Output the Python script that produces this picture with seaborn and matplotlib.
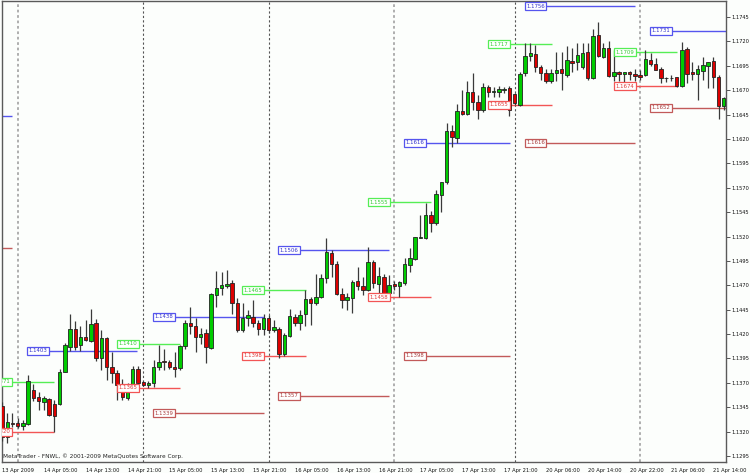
import numpy as np
import pandas as pd
import matplotlib
matplotlib.use("Agg")
import matplotlib.pyplot as plt
from matplotlib import font_manager
import seaborn as sns

# ------------------------------------------------------------------
# H1 bars, 13 Apr 21:00 -> 21 Apr 16:00
# ------------------------------------------------------------------
opens = [1.1346, 1.1315, 1.1329, 1.1329, 1.1326, 1.1328, 1.1363, 1.1356, 1.1350, 1.1353,
         1.1348, 1.1348, 1.1381, 1.1407, 1.1425, 1.1409, 1.1417, 1.1413, 1.1431, 1.1396,
         1.1416, 1.1386, 1.1380, 1.1369, 1.1354, 1.1368, 1.1384, 1.1371, 1.1368, 1.1370,
         1.1386, 1.1392, 1.1391, 1.1386, 1.1385, 1.1408, 1.1431, 1.1428, 1.1417, 1.1421,
         1.1406, 1.1460, 1.1467, 1.1469, 1.1472, 1.1452, 1.1424, 1.1436, 1.1438, 1.1431,
         1.1425, 1.1437, 1.1424, 1.1425, 1.1400, 1.1418, 1.1438, 1.1431, 1.1441, 1.1456,
         1.1452, 1.1458, 1.1478, 1.1503, 1.1492, 1.1461, 1.1455, 1.1457, 1.1474, 1.1469,
         1.1465, 1.1494, 1.1471, 1.1479, 1.1462, 1.1471, 1.1469, 1.1472, 1.1491, 1.1497,
         1.1519, 1.1519, 1.1542, 1.1534, 1.1563, 1.1576, 1.1628, 1.1621, 1.1649, 1.1646,
         1.1668, 1.1658, 1.1650, 1.1673, 1.1668, 1.1668, 1.1670, 1.1672, 1.1666, 1.1655,
         1.1688, 1.1705, 1.1707, 1.1694, 1.1688, 1.1679, 1.1688, 1.1692, 1.1686, 1.1700,
         1.1699, 1.1694, 1.1709, 1.1682, 1.1727, 1.1704, 1.1713, 1.1685, 1.1689, 1.1687,
         1.1689, 1.1687, 1.1686, 1.1686, 1.1701, 1.1697, 1.1692, 1.1682, 1.1682, 1.1683,
         1.1674, 1.1712, 1.1689, 1.1687, 1.1690, 1.1695, 1.1700, 1.1684, 1.1654]
highs = [1.1350, 1.1339, 1.1339, 1.1334, 1.1332, 1.1378, 1.1369, 1.1361, 1.1357, 1.1354,
         1.1352, 1.1384, 1.1411, 1.1441, 1.1433, 1.1428, 1.1434, 1.1446, 1.1435, 1.1424,
         1.1417, 1.1402, 1.1383, 1.1374, 1.1370, 1.1387, 1.1387, 1.1372, 1.1372, 1.1393,
         1.1409, 1.1405, 1.1393, 1.1402, 1.1409, 1.1434, 1.1448, 1.1436, 1.1426, 1.1425,
         1.1462, 1.1485, 1.1484, 1.1486, 1.1475, 1.1457, 1.1452, 1.1445, 1.1455, 1.1434,
         1.1441, 1.1440, 1.1434, 1.1427, 1.1421, 1.1446, 1.1441, 1.1445, 1.1465, 1.1458,
         1.1482, 1.1482, 1.1518, 1.1506, 1.1495, 1.1467, 1.1462, 1.1475, 1.1489, 1.1479,
         1.1509, 1.1496, 1.1489, 1.1482, 1.1481, 1.1474, 1.1474, 1.1498, 1.1508, 1.1520,
         1.1542, 1.1554, 1.1546, 1.1568, 1.1576, 1.1636, 1.1634, 1.1656, 1.1670, 1.1679,
         1.1688, 1.1665, 1.1677, 1.1675, 1.1673, 1.1674, 1.1673, 1.1674, 1.1667, 1.1689,
         1.1718, 1.1718, 1.1716, 1.1696, 1.1692, 1.1692, 1.1709, 1.1709, 1.1715, 1.1713,
         1.1718, 1.1718, 1.1718, 1.1733, 1.1740, 1.1718, 1.1720, 1.1711, 1.1690, 1.1689,
         1.1690, 1.1692, 1.1691, 1.1711, 1.1708, 1.1703, 1.1694, 1.1684, 1.1686, 1.1684,
         1.1719, 1.1714, 1.1699, 1.1696, 1.1704, 1.1699, 1.1704, 1.1686, 1.1663]
lows = [1.1310, 1.1308, 1.1325, 1.1324, 1.1322, 1.1327, 1.1351, 1.1342, 1.1342, 1.1336,
        1.1320, 1.1347, 1.1381, 1.1403, 1.1404, 1.1403, 1.1413, 1.1412, 1.1392, 1.1383,
        1.1373, 1.1370, 1.1352, 1.1352, 1.1352, 1.1366, 1.1369, 1.1367, 1.1365, 1.1366,
        1.1383, 1.1383, 1.1384, 1.1376, 1.1383, 1.1405, 1.1420, 1.1402, 1.1410, 1.1390,
        1.1405, 1.1448, 1.1460, 1.1467, 1.1441, 1.1422, 1.1422, 1.1428, 1.1427, 1.1419,
        1.1419, 1.1421, 1.1422, 1.1395, 1.1398, 1.1417, 1.1428, 1.1424, 1.1428, 1.1429,
        1.1450, 1.1457, 1.1472, 1.1479, 1.1460, 1.1447, 1.1445, 1.1442, 1.1465, 1.1460,
        1.1464, 1.1467, 1.1456, 1.1458, 1.1462, 1.1465, 1.1458, 1.1470, 1.1484, 1.1496,
        1.1518, 1.1517, 1.1525, 1.1532, 1.1545, 1.1574, 1.1612, 1.1616, 1.1645, 1.1645,
        1.1650, 1.1640, 1.1648, 1.1663, 1.1663, 1.1663, 1.1667, 1.1644, 1.1655, 1.1654,
        1.1685, 1.1700, 1.1689, 1.1680, 1.1677, 1.1677, 1.1679, 1.1670, 1.1684, 1.1689,
        1.1691, 1.1692, 1.1680, 1.1681, 1.1704, 1.1703, 1.1684, 1.1679, 1.1679, 1.1674,
        1.1680, 1.1679, 1.1680, 1.1685, 1.1695, 1.1691, 1.1677, 1.1678, 1.1679, 1.1673,
        1.1673, 1.1677, 1.1680, 1.1660, 1.1680, 1.1672, 1.1672, 1.1640, 1.1650]
closes = [1.1315, 1.1330, 1.1328, 1.1326, 1.1329, 1.1372, 1.1355, 1.1351, 1.1354, 1.1337,
          1.1336, 1.1381, 1.1409, 1.1425, 1.1407, 1.1417, 1.1414, 1.1430, 1.1395, 1.1416,
          1.1386, 1.1380, 1.1368, 1.1356, 1.1368, 1.1384, 1.1370, 1.1368, 1.1370, 1.1386,
          1.1391, 1.1391, 1.1386, 1.1384, 1.1408, 1.1431, 1.1428, 1.1417, 1.1420, 1.1407,
          1.1461, 1.1467, 1.1470, 1.1471, 1.1452, 1.1424, 1.1436, 1.1440, 1.1431, 1.1425,
          1.1437, 1.1424, 1.1427, 1.1400, 1.1419, 1.1439, 1.1431, 1.1440, 1.1456, 1.1452,
          1.1458, 1.1478, 1.1504, 1.1492, 1.1461, 1.1455, 1.1458, 1.1473, 1.1469, 1.1465,
          1.1494, 1.1472, 1.1480, 1.1462, 1.1470, 1.1469, 1.1473, 1.1492, 1.1498, 1.1520,
          1.1520, 1.1542, 1.1534, 1.1564, 1.1576, 1.1628, 1.1622, 1.1649, 1.1646, 1.1668,
          1.1658, 1.1650, 1.1673, 1.1668, 1.1669, 1.1671, 1.1671, 1.1650, 1.1657, 1.1687,
          1.1705, 1.1708, 1.1694, 1.1688, 1.1679, 1.1688, 1.1691, 1.1688, 1.1701, 1.1698,
          1.1706, 1.1708, 1.1682, 1.1726, 1.1705, 1.1713, 1.1685, 1.1689, 1.1687, 1.1689,
          1.1687, 1.1685, 1.1684, 1.1702, 1.1697, 1.1691, 1.1682, 1.1682, 1.1682, 1.1674,
          1.1711, 1.1687, 1.1687, 1.1692, 1.1696, 1.1699, 1.1684, 1.1654, 1.1662]

# time axis labels, one every 8 bars
time_labels = ["13 Apr 2009", "14 Apr 05:00", "14 Apr 13:00", "14 Apr 21:00",
               "15 Apr 05:00", "15 Apr 13:00", "15 Apr 21:00", "16 Apr 05:00",
               "16 Apr 13:00", "16 Apr 21:00", "17 Apr 05:00", "17 Apr 13:00",
               "17 Apr 21:00", "20 Apr 06:00", "20 Apr 14:00", "20 Apr 22:00",
               "21 Apr 06:00", "21 Apr 14:00"]
price_ticks = [1.1295, 1.1320, 1.1345, 1.1370, 1.1395, 1.1420, 1.1445, 1.1470,
               1.1495, 1.1520, 1.1545, 1.1570, 1.1595, 1.1620, 1.1645, 1.1670,
               1.1695, 1.1720, 1.1745]

# day separators (bar where a new day starts)
day_breaks = [3, 27, 51, 75, 98, 122]

# horizontal levels drawn by the indicator
level_price = [1.1371, 1.1320, 1.1403, 1.1410, 1.1365, 1.1438, 1.1339,
               1.1465, 1.1398, 1.1506, 1.1357, 1.1555, 1.1458, 1.1616, 1.1398,
               1.1717, 1.1655, 1.1756, 1.1616, 1.1709, 1.1674, 1.1731, 1.1652]
level_kind = ["up", "dn", "hi", "up", "dn", "hi", "lo",
              "up", "dn", "hi", "lo", "up", "dn", "hi", "lo",
              "up", "dn", "hi", "lo", "up", "dn", "hi", "lo"]
level_bar = [-0.2, -0.2, 6.9, 24.1, 24.1, 31.0, 31.0,
             48.0, 48.0, 54.9, 54.9, 72.1, 72.1, 79.0, 79.0,
             95.0, 95.0, 102.0, 102.0, 119.1, 119.1, 126.0, 126.0]
level_end = [9.9, 9.9, 25.8, 34.0, 34.0, 50.1, 50.1,
             58.1, 58.1, 74.0, 74.0, 82.0, 82.0, 97.1, 97.1,
             105.2, 105.2, 121.0, 121.0, 129.1, 129.1, 140.0, 140.0]
# stubs of previous day's levels at the left edge
stub_price = [1.1644, 1.1508]
stub_kind = ["hi", "lo"]

df = pd.DataFrame({"open": opens, "high": highs, "low": lows, "close": closes})
df["bar"] = np.arange(len(df))
df["up"] = df["close"] >= df["open"]

line_col = {"hi": "#5555ee", "lo": "#c25a5a", "up": "#55ee55", "dn": "#f25555"}
text_col = {"hi": "#3333cc", "lo": "#a83c3c", "up": "#33cc33", "dn": "#e03a3a"}

sns.set_style("white")
installed = {f.name for f in font_manager.fontManager.ttflist}
if "Liberation Sans Narrow" in installed:
    plt.rcParams["font.family"] = ["Liberation Sans Narrow", "DejaVu Sans"]
    fs = 4.9
else:
    plt.rcParams["font.family"] = ["DejaVu Sans"]
    fs = 3.7
bg = "#fcfefc"

fig = plt.figure(figsize=(7.5, 4.73), dpi=100, facecolor=bg)
ax = fig.add_axes([1.5 / 750, 11 / 473, 724.5 / 750, 460.7 / 473])
ax.set_facecolor(bg)

# period separators
for k, b in enumerate(day_breaks):
    if k in (0, 3, 5):
        ax.axvline(b, color="#a8a8a8", lw=1.3, ls=(0, (1.5, 1.5)), zorder=1)
    else:
        ax.axvline(b, color="#555555", lw=0.8, ls=(0, (2, 2)), zorder=1)

# levels
for p, kind, b, e in zip(level_price, level_kind, level_bar, level_end):
    ax.hlines(p, b + 1.9, e, color=line_col[kind], lw=1, zorder=2)
    ax.text(b, p, f"{p:.4f}", ha="center", va="center", fontsize=fs * 1.05,
            color=text_col[kind], zorder=6, clip_on=True,
            bbox=dict(boxstyle="square,pad=0.28", fc="white", ec=line_col[kind], lw=0.9))
for p, kind in zip(stub_price, stub_kind):
    ax.hlines(p, -1, 1.9, color=line_col[kind], lw=1, zorder=2)

# candles
ax.vlines(df["bar"], df["low"], df["high"], color="#3a3a3a", lw=0.9, zorder=3)
body_lo = df[["open", "close"]].min(axis=1)
body_h = (df["close"] - df["open"]).abs().clip(lower=0.00004)
colors = np.where(df["up"], "#00cc00", "#dd0000")
ax.bar(df["bar"], body_h, bottom=body_lo, width=0.66, color=colors,
       edgecolor="#222222", linewidth=0.6, zorder=4)

ax.set_xlim(-0.1, 138.43)
ax.set_ylim(1.12889, 1.17611)

ax.set_xticks(np.arange(0, 137, 8))
ax.set_xticklabels(time_labels, ha="left")
ax.yaxis.tick_right()
ax.set_yticks(price_ticks)
ax.set_yticklabels([f"{v:.4f}" for v in price_ticks])
ax.tick_params(axis="both", which="both", direction="out", length=3, width=0.7,
               color="#555555", labelsize=fs, labelcolor="#111111", pad=1)
for s in ax.spines.values():
    s.set_color("#5a5a5a")
    s.set_linewidth(1)

ax.text(0.002, 0.013, "MetaTrader - FNWL, \u00a9 2001-2009 MetaQuotes Software Corp.",
        transform=ax.transAxes, fontsize=fs * 1.13, color="#222222", va="center", ha="left")

fig.savefig("out.png", dpi=100, facecolor=bg)
